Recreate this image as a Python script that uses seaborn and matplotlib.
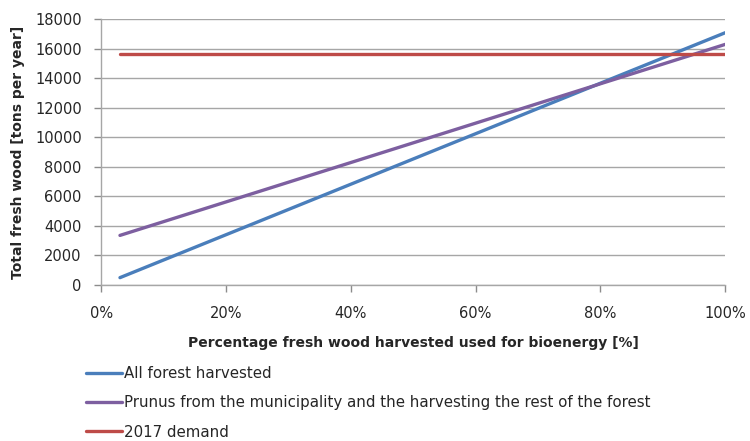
import matplotlib.pyplot as plt
import seaborn as sns
import pandas as pd

# values
pct = [3, 100]
all_forest = [490, 17070]
prunus_rest = [3350, 16280]
demand_2017 = [15600, 15600]

series_names = [
    'All forest harvested',
    'Prunus from the municipality and the harvesting the rest of the forest',
    '2017 demand',
]
colors = ['#4A7EBB', '#7D5FA0', '#BE4B48']

df = pd.concat([
    pd.DataFrame({'pct': pct, 'wood': vals, 'series': name})
    for name, vals in zip(series_names, [all_forest, prunus_rest, demand_2017])
])

sns.set_theme(style="white")
plt.rcParams['font.family'] = ['DejaVu Sans']

fig = plt.figure(figsize=(7.5, 4.41), dpi=100)
ax = fig.add_axes([0.135, 0.354, 0.832, 0.603])

sns.lineplot(data=df, x='pct', y='wood', hue='series', palette=colors,
             hue_order=series_names, linewidth=2.4, ax=ax, legend=False)

ax.set_xlim(0, 100)
ax.set_ylim(0, 18000)
ax.set_xticks(range(0, 101, 20))
ax.set_xticklabels([f'{v}%' for v in range(0, 101, 20)])
ax.set_yticks(range(0, 18001, 2000))
ax.tick_params(axis='both', labelsize=10.5, colors='#8C8C8C', labelcolor='#262626',
               direction='out', length=5, width=1, bottom=True, left=True)
ax.tick_params(axis='x', pad=10)
ax.tick_params(axis='y', pad=9)
ax.grid(axis='y', color='#A6A6A6', linewidth=1)
ax.set_axisbelow(True)
for side in ['top', 'right']:
    ax.spines[side].set_visible(False)
for side in ['left', 'bottom']:
    ax.spines[side].set_color('#A6A6A6')
    ax.spines[side].set_linewidth(1)

ax.set_xlabel('Percentage fresh wood harvested used for bioenergy [%]',
              fontsize=10, fontweight='bold', labelpad=11)
ax.set_ylabel('Total fresh wood [tons per year]', fontsize=10, fontweight='bold',
              labelpad=7)

handles = [plt.Line2D([], [], color=c, linewidth=2.4) for c in colors]
fig.legend(handles, series_names, loc='upper left', bbox_to_anchor=(0.115, 0.17),
           frameon=False, fontsize=10.8, handlelength=2.4, handletextpad=0.15,
           labelspacing=0.95, borderaxespad=0, borderpad=0)

fig.savefig('out.png', dpi=100)
